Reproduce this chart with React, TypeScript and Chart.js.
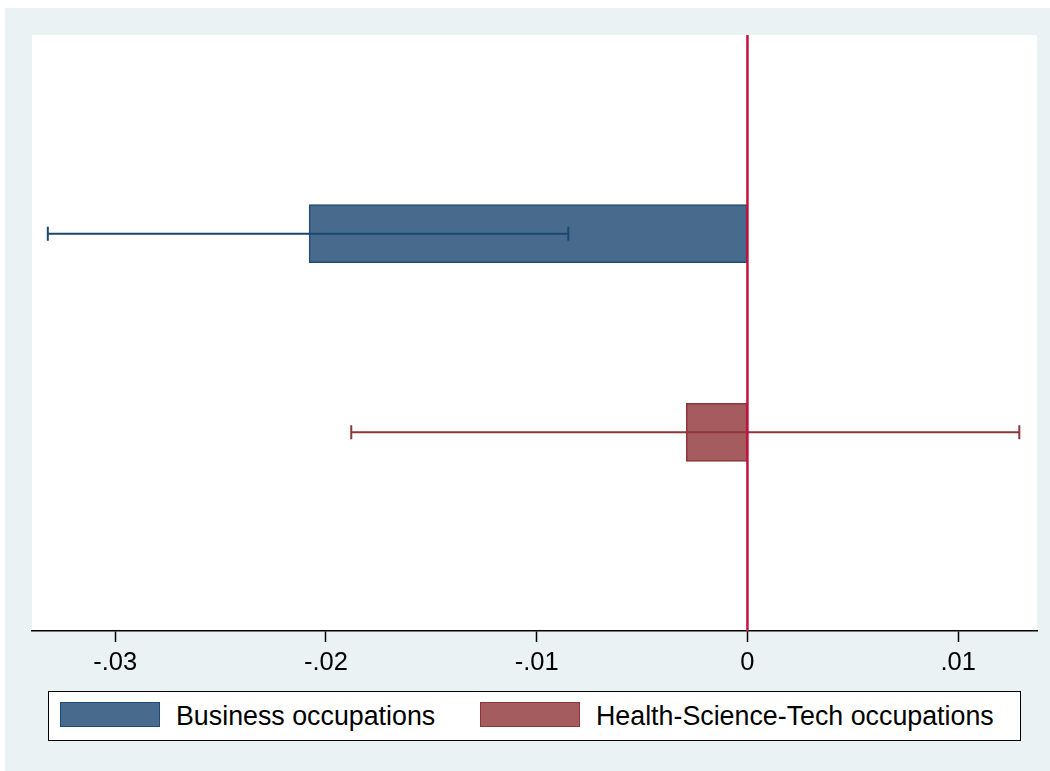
import React, { useEffect, useRef } from "react";
import { Chart, registerables } from "chart.js";

Chart.register(...registerables);

// Point estimates with 95% confidence intervals, one row per occupation group
const seriesNames = ["Business occupations", "Health-Science-Tech occupations"];
const estimates = [-0.0208, -0.0029];
const ciLower = [-0.0332, -0.0188];
const ciUpper = [-0.0085, 0.0129];

// Horizontal axis
const xMin = -0.03395;
const xMax = 0.01374;
const tickValues = [-0.03, -0.02, -0.01, 0, 0.01];
const tickLabels = ["-.03", "-.02", "-.01", "0", ".01"];

const fillColors = ["#486b8d", "#a55c5f"];
const edgeColors = ["#1f4a75", "#8f343b"];
const ciColors = ["#1a476f", "#90353b"];
const zeroLineColor = "#c4123e";
const panelColor = "#eaf2f3";
const FONT = "'Liberation Sans', Arial, Helvetica, sans-serif";

export default function App() {
  const canvasRef = useRef<HTMLCanvasElement | null>(null);

  useEffect(() => {
    const canvas = canvasRef.current;
    if (!canvas) return;

    // empty rows above and below keep the two bars at 1/3 and 2/3 of the height
    const rowLabels = ["", ...seriesNames, ""];
    const rowValues = [null, ...estimates, null];

    const backgroundPlugin = {
      id: "panelBackground",
      beforeDraw(chart: any) {
        const { ctx, chartArea } = chart;
        ctx.save();
        ctx.fillStyle = "#ffffff";
        ctx.fillRect(0, 0, chart.width, chart.height);
        ctx.fillStyle = panelColor;
        ctx.fillRect(5, 8, chart.width - 5, chart.height - 8);
        ctx.fillStyle = "#ffffff";
        ctx.fillRect(
          chartArea.left,
          chartArea.top,
          chartArea.right - chartArea.left,
          chartArea.bottom - chartArea.top
        );
        ctx.restore();
      },
    };

    const intervalPlugin = {
      id: "intervalsAndZero",
      afterDatasetsDraw(chart: any) {
        const { ctx, chartArea } = chart;
        const xs = chart.scales.x;
        const ys = chart.scales.y;
        ctx.save();
        ctx.lineCap = "butt";
        estimates.forEach((_, i) => {
          const y = ys.getPixelForValue(i + 1);
          const x0 = xs.getPixelForValue(ciLower[i]);
          const x1 = xs.getPixelForValue(ciUpper[i]);
          ctx.strokeStyle = ciColors[i];
          ctx.lineWidth = 2;
          ctx.beginPath();
          ctx.moveTo(x0, y);
          ctx.lineTo(x1, y);
          ctx.moveTo(x0, y - 7);
          ctx.lineTo(x0, y + 7);
          ctx.moveTo(x1, y - 7);
          ctx.lineTo(x1, y + 7);
          ctx.stroke();
        });
        const zx = xs.getPixelForValue(0);
        ctx.strokeStyle = zeroLineColor;
        ctx.lineWidth = 2.5;
        ctx.beginPath();
        ctx.moveTo(zx, chartArea.top);
        ctx.lineTo(zx, chartArea.bottom);
        ctx.stroke();
        ctx.restore();
      },
    };

    const chart = new Chart(canvas, {
      type: "bar",
      data: {
        labels: rowLabels,
        datasets: [
          {
            data: rowValues as any,
            backgroundColor: ["", ...fillColors, ""],
            borderColor: ["", ...edgeColors, ""],
            borderWidth: 1.5,
            borderSkipped: false,
            barThickness: 58,
          },
        ],
      },
      options: {
        indexAxis: "y",
        responsive: false,
        animation: false,
        layout: { padding: { left: 32, top: 35, right: 13, bottom: 80 } },
        plugins: {
          legend: { display: false },
          tooltip: { enabled: false },
        },
        scales: {
          y: {
            type: "category",
            offset: false,
            display: false,
          },
          x: {
            type: "linear",
            position: "bottom",
            min: xMin,
            max: xMax,
            afterBuildTicks(scale: any) {
              scale.ticks = tickValues.map((v) => ({ value: v }));
            },
            afterFit(scale: any) {
              scale.height = 60;
            },
            grid: {
              display: true,
              drawOnChartArea: false,
              drawTicks: true,
              tickLength: 11,
              tickColor: "#000000",
              tickWidth: 1.5,
            },
            border: { display: true, color: "#000000", width: 1.5 },
            ticks: {
              color: "#000000",
              padding: 6,
              maxRotation: 0,
              autoSkip: false,
              font: { family: FONT, size: 25.5 },
              callback: (_v: any, i: number) => tickLabels[i],
            },
          },
        },
      },
      plugins: [backgroundPlugin, intervalPlugin],
    });

    return () => chart.destroy();
  }, []);

  const swatch = (i: number, left: number): React.CSSProperties => ({
    position: "absolute",
    left,
    top: 10,
    width: 100,
    height: 25,
    boxSizing: "border-box",
    background: fillColors[i],
    border: `1.5px solid ${edgeColors[i]}`,
  });
  const label = (left: number): React.CSSProperties => ({
    position: "absolute",
    left,
    top: 1,
    height: 46,
    lineHeight: "46px",
    fontFamily: FONT,
    fontSize: 26.8,
    color: "#000",
    whiteSpace: "nowrap",
  });

  return (
    <div style={{ position: "absolute", left: 0, top: 0, width: 1050, height: 771 }}>
      <canvas
        ref={canvasRef}
        width={1050}
        height={771}
        style={{ position: "absolute", left: 0, top: 0, width: 1050, height: 771 }}
      />
      <div
        style={{
          position: "absolute",
          left: 48,
          top: 691,
          width: 973,
          height: 50,
          boxSizing: "border-box",
          background: "#ffffff",
          border: "1.5px solid #000",
        }}
      >
        <div style={swatch(0, 11)} />
        <div style={label(127)}>{seriesNames[0]}</div>
        <div style={swatch(1, 431)} />
        <div style={label(547)}>{seriesNames[1]}</div>
      </div>
    </div>
  );
}
